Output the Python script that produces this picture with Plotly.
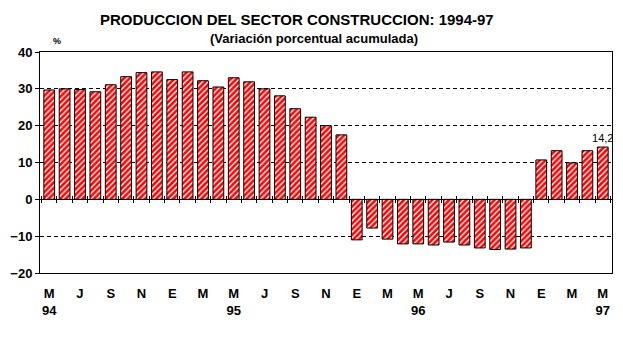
import plotly.graph_objects as go

months = ["M","J","J","A","S","O","N","D","E","F","M","A",
          "M","J","J","A","S","O","N","D","E","F","M","A",
          "M","J","J","A","S","O","N","D","E","F","M","A","M"]
values = [29.7, 30.0, 29.8, 29.2, 31.1, 33.3, 34.4, 34.6, 32.5, 34.6, 32.2, 30.5,
          33.0, 31.9, 30.0, 28.1, 24.6, 22.3, 20.0, 17.5,
          -11.0, -7.8, -10.8, -12.1, -12.1, -12.4, -11.6, -12.4, -13.2, -13.6, -13.5, -13.2,
          10.7, 13.2, 9.9, 13.2, 14.2]
tick_labels = ["M<br>94","J","S","N","E","M","M<br>95","J","S","N","E","M",
               "M<br>96","J","S","N","E","M","M<br>97"]
bar_labels = ["" for _ in values[:-1]] + ["14,2"]

x = list(range(len(values)))
tickvals = x[::2]

FONT = "Liberation Sans, Arial, sans-serif"

fig = go.Figure()
fig.add_trace(go.Bar(
    x=x, y=values, width=0.7,
    marker=dict(color="#ff0000", line=dict(color="black", width=1),
                pattern=dict(shape="/", fgcolor="white", bgcolor="#ff0000",
                             size=4, solidity=0.35, fillmode="replace")),
    text=bar_labels, textposition="outside", cliponaxis=False, constraintext="none",
    textfont=dict(family=FONT, size=11, color="black"),
    showlegend=False, hoverinfo="skip"))
# invisible traces to hold the zero-line tick axes
fig.add_trace(go.Scatter(x=[], y=[], xaxis="x2", yaxis="y", showlegend=False))
fig.add_trace(go.Scatter(x=[], y=[], xaxis="x3", yaxis="y", showlegend=False))

xr = [-0.6, len(values) - 0.4]
between = [i + 0.5 for i in range(-1, len(values))]
fig.update_layout(
    width=623, height=349,
    margin=dict(l=39, r=10, t=52, b=76),
    paper_bgcolor="white", plot_bgcolor="white",
    font=dict(family=FONT, color="black"),
    bargap=0.3,
    xaxis=dict(range=xr, tickvals=tickvals, ticktext=tick_labels, ticks="",
               showline=True, linecolor="black", linewidth=1, mirror=True,
               showgrid=False, zeroline=False, ticklabelstandoff=8,
               tickfont=dict(family=FONT, size=13, color="black", weight="bold")),
    xaxis2=dict(overlaying="x", anchor="free", position=1/3, range=xr,
                tickvals=between, ticks="outside", ticklen=3, tickcolor="black",
                showticklabels=False, showline=False, showgrid=False, zeroline=False),
    xaxis3=dict(overlaying="x", anchor="free", position=1/3, range=xr,
                tickvals=between, ticks="inside", ticklen=3, tickcolor="black",
                showticklabels=False, showline=False, showgrid=False, zeroline=False),
    yaxis=dict(range=[-20, 40], tickvals=[-20, -10, 0, 10, 20, 30, 40],
               ticks="outside", ticklen=4, tickcolor="black",
               showline=True, linecolor="black", linewidth=1, mirror=True,
               showgrid=True, gridcolor="black", gridwidth=1, griddash="4px,3px",
               zeroline=True, zerolinecolor="black", zerolinewidth=1,
               tickfont=dict(family=FONT, size=13, color="black", weight="bold")),
    annotations=[
        dict(text="PRODUCCION DEL SECTOR CONSTRUCCION: 1994-97", xref="paper", yref="paper",
             x=0.449, y=1.149, yanchor="middle", showarrow=False,
             font=dict(family=FONT, size=15, color="black", weight="bold")),
        dict(text="(Variación porcentual acumulada)", xref="paper", yref="paper",
             x=0.479, y=1.059, yanchor="middle", showarrow=False,
             font=dict(family=FONT, size=13, color="black", weight="bold")),
        dict(text="%", xref="paper", yref="paper", x=0.019, y=1.05, yanchor="middle",
             showarrow=False,
             font=dict(family=FONT, size=9, color="black", weight="bold")),
    ],
)
fig.write_html("out.html")
